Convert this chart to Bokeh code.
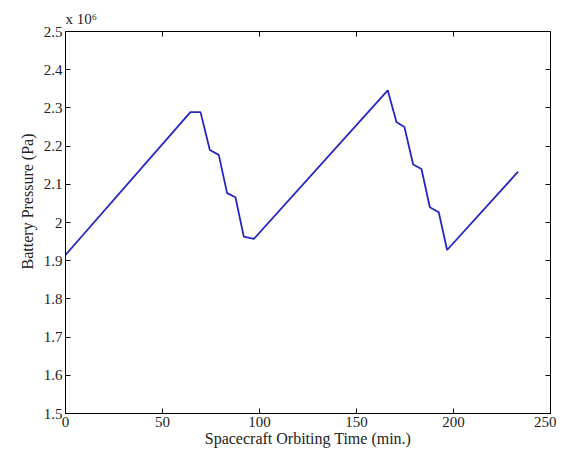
from bokeh.plotting import figure
from bokeh.models import LinearAxis, FixedTicker, Range1d, Title, CustomJSTickFormatter
from bokeh.embed import file_html
from bokeh.resources import INLINE

# Data (pressure in units of 10^6 Pa)
time_min = [0, 64.4, 69.6, 74.4, 79.0, 83.3, 87.6, 91.9, 97.1,
            166.1, 170.6, 174.7, 179.2, 183.5, 187.8, 192.4, 196.7, 233.3]
pressure = [1.915, 2.289, 2.289, 2.190, 2.177, 2.077, 2.066, 1.963, 1.957,
            2.346, 2.263, 2.250, 2.152, 2.140, 2.040, 2.027, 1.928, 2.133]

x_ticks = [0, 50, 100, 150, 200, 250]
x_tick_labels = ["0", "50", "100", "150", "200", "250"]
y_ticks = [1.5, 1.6, 1.7, 1.8, 1.9, 2.0, 2.1, 2.2, 2.3, 2.4, 2.5]
y_tick_labels = ["1.5", "1.6", "1.7", "1.8", "1.9", "2", "2.1", "2.2", "2.3", "2.4", "2.5"]

FONT = "Liberation Serif"
TXT = "#222222"

p = figure(width=556, height=450, output_backend="svg", toolbar_location=None,
           x_range=Range1d(0, 250), y_range=Range1d(1.5, 2.5),
           min_border_left=65, min_border_right=6, min_border_top=31, min_border_bottom=37)
p.xgrid.visible = False
p.ygrid.visible = False
p.outline_line_color = "black"
p.outline_line_width = 1
p.background_fill_color = "white"
p.border_fill_color = "white"

p.line(time_min, pressure, line_color="#2626c4", line_width=1.8)

JS = """
for (let i = 0; i < tvals.length; i++) {
    if (Math.abs(tvals[i] - tick) < 1e-9) { return tlabels[i]; }
}
return "";
"""

def style_axis(ax, ticks, labels, show_labels):
    ax.ticker = FixedTicker(ticks=ticks)
    ax.formatter = CustomJSTickFormatter(
        args=dict(tvals=ticks, tlabels=labels if show_labels else [""] * len(ticks)), code=JS)
    ax.major_tick_in = 5
    ax.major_tick_out = 0
    ax.minor_tick_line_color = None
    ax.axis_line_color = "black"
    ax.major_tick_line_color = "black"
    ax.major_label_text_font = FONT
    ax.major_label_text_font_size = "15px" if show_labels else "0px"
    ax.major_label_standoff = 3 if show_labels else 0
    ax.major_label_text_color = TXT
    ax.axis_label_text_font = FONT
    ax.axis_label_text_font_size = "16px"
    ax.axis_label_text_font_style = "normal"
    ax.axis_label_text_color = TXT

style_axis(p.xaxis[0], x_ticks, x_tick_labels, True)
style_axis(p.yaxis[0], y_ticks, y_tick_labels, True)
p.xaxis[0].axis_label = "Spacecraft Orbiting Time (min.)"
p.xaxis[0].major_label_standoff = 3
p.xaxis[0].axis_label_standoff = 0

top = LinearAxis()
style_axis(top, x_ticks, x_tick_labels, False)
p.add_layout(top, "above")
right = LinearAxis()
style_axis(right, y_ticks, y_tick_labels, False)
p.add_layout(right, "right")

# exponent label above the top-left corner
p.add_layout(Title(text="x 10\u2076", align="left", offset=0, text_font=FONT,
                   text_font_size="15px", text_font_style="normal", text_color=TXT), "above")

# y axis label, placed slightly above centre as in the reference
p.add_layout(Title(text="Battery Pressure (Pa)", align="right", offset=102, text_font=FONT,
                   text_font_size="16px", text_font_style="normal", text_color=TXT), "left")

open("out.html", "w").write(file_html(p, INLINE))
